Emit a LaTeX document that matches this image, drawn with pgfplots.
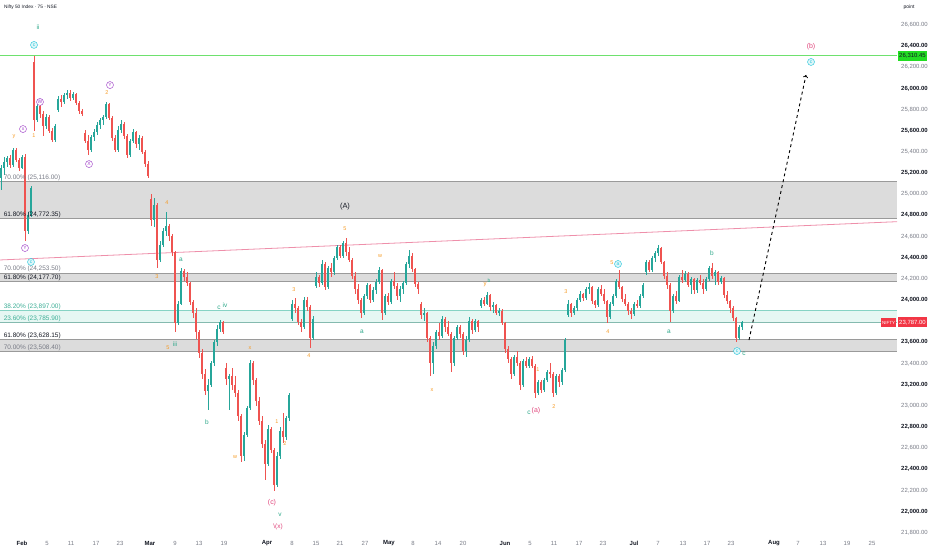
\documentclass[border=0pt]{standalone}
\usepackage{pgfplots}
\pgfplotsset{compat=1.18}
\usepackage{pgfplotstable}
\usepackage{fontspec}
\setmainfont{Liberation Sans}
\definecolor{upc}{HTML}{26A69A}
\definecolor{dnc}{HTML}{EF5350}
\definecolor{tvgrey}{HTML}{787B86}
\definecolor{tvdark}{HTML}{131722}
\definecolor{bandfill}{HTML}{DCDCDC}
\definecolor{bandline}{HTML}{9A9A9A}
\definecolor{tealfill}{HTML}{E6F7F3}
\definecolor{tealline}{HTML}{86D3C4}
\definecolor{fibteal}{HTML}{3DAE96}
\definecolor{levelgreen}{RGB}{110,225,110}
\definecolor{trend}{HTML}{EE8FAA}
\definecolor{wor}{HTML}{F59A23}
\definecolor{wpu}{HTML}{A040C8}
\definecolor{wcy}{HTML}{26C6DA}
\definecolor{wgr}{HTML}{2EA88A}
\definecolor{wpk}{HTML}{E0457B}
\definecolor{lblgreen}{HTML}{22DD22}
\definecolor{lblred}{HTML}{F23645}
\newcommand{\lb}[5]{\node[text=#1, font=\fontsize{#5}{#5}\selectfont, inner sep=0pt] at (axis cs:#2,#3) {#4};}
\newcommand{\cl}[5]{\node[circle, draw=#1, text=#1, fill=#5, line width=0.45bp, inner sep=0pt, minimum size=7bp, font=\fontsize{5}{5}\selectfont] at (axis cs:#2,#3) {#4};}
\newcommand{\fibl}[3]{\node[anchor=south west, inner sep=0.6bp, text=#1, font=\fontsize{6.5}{7}\selectfont] at (axis cs:3,#2) {#3};}
\newcommand{\M}[1]{\textcolor{tvdark}{\textbf{#1}}}
\newcommand{\B}[1]{\textcolor{tvdark}{\textbf{#1}}}
\pgfplotsset{candle/.style 2 args={draw=none, mark=none, forget plot, error bars/.cd, y dir=both, y explicit, error mark=none, error bar style={draw=#1, line width=#2}}}
\begin{document}
\pgfplotstableread{
x o h l c
1 25150 25280 25040 25250
4 25250 25350 25180 25300
7 25300 25360 25260 25340
10 25340 25370 25250 25280
13 25280 25440 25260 25420
16 25420 25440 25300 25320
19 25320 25340 25220 25250
22 25250 25370 25240 25350
25 25350 25380 24560 24650
28 24650 24830 24620 24800
31 24800 25080 24780 25060
34 26250 26310 25600 25700
37 25700 25850 25680 25830
40 25830 25860 25720 25760
43 25760 25790 25550 25640
46 25640 25760 25620 25730
49 25730 25750 25580 25600
52 25600 25630 25490 25510
55 25510 25660 25490 25640
58 25800 25930 25780 25900
61 25900 25940 25820 25870
64 25870 25960 25850 25940
67 25940 25985 25900 25960
70 25960 25985 25880 25910
73 25910 25970 25890 25950
76 25950 25960 25840 25860
79 25860 25880 25760 25790
82 25790 25810 25740 25760
85 25580 25610 25480 25500
88 25500 25560 25370 25420
91 25420 25560 25400 25540
94 25540 25620 25500 25590
97 25590 25680 25560 25650
100 25650 25720 25620 25700
103 25700 25750 25650 25730
106 25730 25870 25710 25850
109 25850 25860 25700 25720
112 25720 25740 25500 25530
115 25530 25560 25400 25420
118 25420 25640 25400 25610
121 25610 25700 25580 25660
124 25660 25680 25520 25550
127 25550 25570 25340 25370
130 25370 25520 25350 25500
133 25500 25620 25480 25590
136 25590 25600 25440 25470
139 25470 25560 25420 25530
142 25530 25550 25380 25400
145 25400 25420 25260 25290
148 25290 25310 25150 25170
151 24950 25000 24700 24760
154 24760 24960 24690 24900
157 24900 24920 24300 24380
160 24380 24560 24360 24520
163 24520 24680 24500 24650
166 24650 24830 24600 24700
169 24700 24720 24560 24600
172 24600 24620 24420 24450
175 24450 24460 23700 23780
178 23780 23990 23760 23960
181 23960 24300 23950 24270
184 24270 24290 24180 24220
187 24220 24260 24130 24160
190 24160 24170 23950 23980
193 23980 24000 23830 23880
196 23880 23920 23630 23700
199 23700 23720 23450 23500
202 23500 23540 23250 23300
205 23300 23350 23100 23140
208 23140 23250 22960 23200
211 23200 23420 23180 23400
214 23400 23620 23380 23600
217 23600 23760 23560 23730
220 23730 23810 23700 23790
223 23790 23800 23680 23700
226 23360 23400 23200 23250
229 23250 23300 22960 23280
232 23280 23360 23150 23200
235 23200 23280 23080 23120
238 23120 23150 22860 22900
241 22900 22920 22470 22520
244 22520 22750 22480 22720
247 22720 23000 22700 22980
250 22980 23430 22960 23400
253 23400 23420 23200 23240
256 23240 23260 23000 23040
259 23040 23080 22820 22860
262 22860 22900 22600 22640
265 22640 22680 22300 22450
268 22450 22820 22430 22780
271 22780 22800 22550 22580
274 22580 22600 22190 22250
277 22250 22560 22230 22520
280 22520 22800 22500 22760
283 22760 22930 22650 22700
286 22700 22900 22680 22880
289 22880 23120 22860 23100
292 23820 24000 23800 23960
295 23960 24020 23880 23920
298 23920 23940 23760 23790
301 23790 23820 23700 23740
304 23740 24030 23730 24000
307 24000 24030 23900 23930
310 23930 23950 23550 23640
313 23640 23850 23620 23820
316 24130 24260 24110 24220
319 24220 24240 24120 24160
322 24160 24380 24140 24340
325 24340 24360 24090 24120
328 24120 24320 24100 24300
331 24300 24350 24220 24260
334 24260 24420 24240 24400
337 24400 24520 24380 24500
340 24500 24520 24400 24420
343 24420 24560 24400 24540
346 24540 24585 24420 24450
349 24450 24500 24360 24380
352 24380 24400 24200 24230
355 24230 24260 24060 24100
358 24100 24150 23960 24000
361 24000 24020 23830 23880
364 23880 24060 23860 24040
367 24040 24160 24010 24140
370 24140 24150 23970 24000
373 24000 24120 23980 24090
376 24090 24200 24060 24170
379 24170 24310 24150 24280
382 24280 24290 23810 23880
385 23880 24060 23860 24040
388 24040 24070 23950 23980
391 23980 24200 23960 24180
394 24180 24260 24100 24130
397 24130 24160 24000 24040
400 24040 24130 23980 24100
403 24100 24180 24060 24160
406 24160 24360 24140 24340
409 24340 24470 24300 24420
412 24420 24440 24260 24290
415 24290 24300 24120 24150
418 24150 24170 24060 24100
421 23960 23980 23820 23860
424 23860 23920 23800 23880
427 23880 23890 23600 23640
430 23640 23660 23280 23400
433 23400 23600 23300 23560
436 23560 23720 23540 23700
439 23700 23780 23620 23660
442 23660 23850 23640 23820
445 23820 23840 23700 23740
448 23740 23800 23660 23680
451 23680 23700 23320 23400
454 23400 23660 23380 23640
457 23640 23760 23620 23740
460 23740 23760 23640 23680
463 23680 23700 23480 23520
466 23520 23660 23460 23620
469 23620 23840 23600 23800
472 23800 23820 23680 23720
475 23720 23820 23700 23800
478 23800 23810 23700 23740
481 23940 24020 23920 24000
484 24000 24030 23940 23960
487 23960 24075 23950 24050
490 24050 24060 23900 23930
493 23930 23980 23880 23950
496 23950 23960 23860 23880
499 23880 23920 23850 23900
502 23900 23910 23760 23780
505 23780 23790 23500 23540
508 23540 23560 23400 23440
511 23440 23460 23250 23300
514 23300 23480 23280 23460
517 23460 23520 23380 23400
520 23400 23420 23150 23200
523 23200 23440 23180 23420
526 23420 23460 23360 23380
529 23380 23460 23360 23440
532 23440 23470 23360 23380
535 23380 23390 23075 23120
538 23120 23240 23100 23220
541 23220 23240 23120 23150
544 23150 23260 23130 23240
547 23240 23340 23220 23320
550 23320 23400 23260 23300
553 23300 23320 23084 23120
556 23120 23300 23100 23280
559 23280 23300 23180 23220
562 23220 23360 23200 23340
565 23340 23640 23320 23620
568 23860 24000 23840 23960
571 23960 23970 23840 23880
574 23880 23940 23860 23920
577 23920 24020 23900 24000
580 24000 24080 23980 24060
583 24060 24070 23990 24020
586 24020 24120 24000 24100
589 24100 24160 24060 24120
592 24120 24130 23960 23990
595 23990 24000 23920 23950
598 23950 24120 23930 24100
601 24100 24140 24040 24060
604 24060 24100 23960 23990
607 23990 24000 23780 23840
610 23840 23980 23820 23960
613 23960 24060 23940 24040
616 24040 24200 24020 24180
619 24180 24280 24100 24120
622 24120 24130 23980 24010
625 24010 24060 23940 23960
628 23960 23980 23860 23900
631 23900 23920 23820 23870
634 23870 23980 23850 23960
637 23960 24000 23920 23940
640 23940 24060 23920 24040
643 24040 24160 24020 24140
646 24260 24380 24240 24360
649 24360 24380 24260 24280
652 24280 24420 24260 24400
655 24400 24460 24360 24440
658 24440 24518 24420 24490
661 24490 24500 24340 24360
664 24360 24370 24200 24230
667 24230 24260 24100 24140
670 24140 24160 23790 23900
673 23900 24060 23880 24040
676 24040 24080 23960 23990
679 23990 24240 23980 24220
682 24220 24280 24160 24190
685 24190 24270 24170 24250
688 24250 24260 24120 24140
691 24140 24220 24060 24200
694 24200 24210 24060 24090
697 24090 24210 24070 24190
700 24190 24240 24140 24160
703 24160 24200 24060 24100
706 24100 24220 24080 24200
709 24200 24320 24180 24300
712 24300 24348 24200 24230
715 24230 24280 24140 24260
718 24260 24270 24140 24170
721 24170 24230 24150 24210
724 24210 24220 24020 24050
727 24050 24080 23960 23990
730 23990 24000 23880 23920
733 23920 23940 23800 23830
736 23830 23840 23600 23640
739 23640 23760 23620 23740
742 23740 23800 23720 23787
}\cdata
\begin{tikzpicture}
\useasboundingbox (0,0) rectangle (932bp,550bp);
\begin{axis}[
  at={(0bp,13bp)}, anchor=south west, scale only axis,
  width=897bp, height=537bp,
  xmin=0, xmax=897, ymin=21758.7, ymax=26836,
  clip=false,
  axis line style={draw=none},
  major tick length=0pt,
  scaled x ticks=false, scaled y ticks=false,
  xtick={22,47,71,96,120,150,175,199,224,267,292,316,340,365,389,413,438,463,505,530,554,579,603,634,658,683,707,731,774,798,823,847,872},
  xticklabels={\M{Feb},5,11,17,23,\M{Mar},9,13,19,\M{Apr},8,15,21,27,\M{May},8,14,20,\M{Jun},5,11,17,23,\M{Jul},7,13,17,23,\M{Aug},7,13,19,25},
  xticklabel style={anchor=center, yshift=-6.5bp, inner sep=0pt, text=tvgrey, font=\fontsize{6}{6}\selectfont},
  ytick={21800,22000,22200,22400,22600,22800,23000,23200,23400,23600,24000,24200,24400,24600,24800,25000,25200,25400,25600,25800,26000,26200,26400,26600},
  yticklabels={{21,800.00},{\B{22,000.00}},{22,200.00},{\B{22,400.00}},{22,600.00},{\B{22,800.00}},{23,000.00},{\B{23,200.00}},{23,400.00},{\B{23,600.00}},{\B{24,000.00}},{24,200.00},{\B{24,400.00}},{24,600.00},{\B{24,800.00}},{25,000.00},{\B{25,200.00}},{25,400.00},{\B{25,600.00}},{25,800.00},{\B{26,000.00}},{26,200.00},{\B{26,400.00}},{26,600.00}},
  yticklabel pos=right,
  yticklabel style={anchor=west, xshift=4bp, inner sep=0pt, text=tvgrey, font=\fontsize{6}{6}\selectfont},
]
% bands
\addplot[draw=none, fill=bandfill, forget plot] coordinates {(0,24772.35) (897,24772.35) (897,25116) (0,25116)};
\addplot[draw=none, fill=bandfill, forget plot] coordinates {(0,24177.7) (897,24177.7) (897,24253.5) (0,24253.5)};
\addplot[draw=none, fill=tealfill, forget plot] coordinates {(0,23785.9) (897,23785.9) (897,23897) (0,23897)};
\addplot[draw=none, fill=bandfill, forget plot] coordinates {(0,23508.4) (897,23508.4) (897,23628.15) (0,23628.15)};
\addplot[draw=bandline, line width=1bp, forget plot] coordinates {(0,25116) (897,25116)};
\addplot[draw=bandline, line width=1bp, forget plot] coordinates {(0,24772.35) (897,24772.35)};
\addplot[draw=bandline, line width=1bp, forget plot] coordinates {(0,24253.5) (897,24253.5)};
\addplot[draw=bandline, line width=1bp, forget plot] coordinates {(0,24177.7) (897,24177.7)};
\addplot[draw=tealline, line width=0.9bp, forget plot] coordinates {(0,23897) (897,23897)};
\addplot[draw=tealline!70!gray, line width=0.9bp, forget plot] coordinates {(0,23785.9) (897,23785.9)};
\addplot[draw=bandline, line width=1bp, forget plot] coordinates {(0,23628.15) (897,23628.15)};
\addplot[draw=bandline, line width=1bp, forget plot] coordinates {(0,23508.4) (897,23508.4)};
% level and trend lines
\addplot[draw=levelgreen, line width=1.1bp, forget plot] table[row sep=\\] {x y\\ 0 26310.45\\ 897 26310.45\\};
\addplot[draw=trend, line width=0.8bp, forget plot] coordinates {(0,24378) (897,24740)};
% candles: wicks
\addplot[candle={upc}{0.5bp}]
  table[x=x, y expr={(\thisrow{c}>=\thisrow{o}) ? 0.5*(\thisrow{h}+\thisrow{l}) : nan}, y error expr={0.5*(\thisrow{h}-\thisrow{l})}] {\cdata};
\addplot[candle={dnc}{0.5bp}]
  table[x=x, y expr={(\thisrow{c}<\thisrow{o}) ? 0.5*(\thisrow{h}+\thisrow{l}) : nan}, y error expr={0.5*(\thisrow{h}-\thisrow{l})}] {\cdata};
% candles: bodies
\addplot[candle={upc}{1.7bp}]
  table[x=x, y expr={(\thisrow{c}>=\thisrow{o}) ? 0.5*(\thisrow{o}+\thisrow{c}) : nan}, y error expr={max(0.5*abs(\thisrow{c}-\thisrow{o}),5)}] {\cdata};
\addplot[candle={dnc}{1.7bp}]
  table[x=x, y expr={(\thisrow{c}<\thisrow{o}) ? 0.5*(\thisrow{o}+\thisrow{c}) : nan}, y error expr={max(0.5*abs(\thisrow{c}-\thisrow{o}),5)}] {\cdata};
% projection
\addplot[black, dashed, line width=0.9bp, ->, forget plot] coordinates {(749,23621) (806,26127)};
% fib labels
\fibl{tvgrey}{25116}{70.00\% (25,116.00)}
\fibl{tvdark}{24772.35}{61.80\% (24,772.35)}
\fibl{tvgrey}{24253.5}{70.00\% (24,253.50)}
\fibl{tvdark}{24177.7}{61.80\% (24,177.70)}
\fibl{fibteal}{23897}{38.20\% (23,897.00)}
\fibl{fibteal}{23785.9}{23.60\% (23,785.90)}
\fibl{tvdark}{23628.15}{61.80\% (23,628.15)}
\fibl{tvgrey}{23508.4}{70.00\% (23,508.40)}
% wave labels
\lb{wgr}{38}{26581}{ii}{6.5}
\cl{wcy}{34}{26411}{c}{wcy!15}
\lb{wor}{14}{25541}{y}{5.5}
\cl{wpu}{23}{25616}{x}{white}
\cl{wpu}{40}{25872}{W}{white}
\lb{wor}{34}{25550}{1}{5.5}
\cl{wpu}{89}{25285}{X}{white}
\lb{wor}{107}{25957}{2}{5.5}
\cl{wpu}{110}{26032}{Y}{white}
\cl{wpu}{25}{24491}{Y}{white}
\cl{wcy}{31}{24359}{c}{wcy!15}
\lb{wor}{167}{24917}{4}{5.5}
\lb{wgr}{181}{24378}{a}{6.5}
\lb{wor}{157}{24217}{3}{5.5}
\lb{wor}{168}{23546}{5}{5.5}
\lb{wgr}{175}{23584}{iii}{6.5}
\lb{wgr}{219}{23924}{c}{6.5}
\lb{wgr}{225}{23952}{iv}{6.5}
\lb{wgr}{207}{22846}{b}{6.5}
\lb{wor}{250}{23546}{x}{5.5}
\lb{wor}{235}{22515}{w}{5.5}
\lb{wpk}{272}{22080}{(c)}{7}
\lb{wgr}{280}{21967}{v}{6.5}
\lb{wpk}{278}{21853}{\textbackslash(x)}{6.5}
\lb{wor}{277}{22846}{1}{5.5}
\lb{wor}{285}{22638}{2}{5.5}
\lb{wor}{294}{24094}{3}{5.5}
\lb{wor}{309}{23470}{4}{5.5}
\lb{wor}{345}{24671}{5}{5.5}
\lb{wgr}{362}{23697}{a}{6.5}
\lb{wor}{380}{24416}{w}{5.5}
\lb{wor}{432}{23149}{x}{5.5}
\lb{wor}{485}{24141}{y}{6}
\lb{wgr}{489}{24185}{b}{5}
\lb{wor}{538}{23338}{1}{5.5}
\lb{wgr}{529}{22931}{c}{6.5}
\lb{wpk}{536}{22950}{(a)}{7}
\lb{wor}{554}{22988}{2}{5.5}
\lb{wor}{566}{24075}{3}{5.5}
\lb{wor}{608}{23697}{4}{5.5}
\lb{wor}{612}{24349}{5}{5.5}
\cl{wcy}{618}{24340}{a}{wcy!15}
\lb{wgr}{669}{23697}{a}{6.5}
\lb{wgr}{712}{24444}{b}{6.5}
\cl{wcy}{737}{23517}{c}{wcy!15}
\lb{wgr}{744}{23489}{c}{6.5}
\lb{wpk}{811}{26392}{(b)}{7}
\cl{wcy}{811}{26250}{c}{wcy!15}
\lb{tvdark}{345}{24879}{(A)}{7.5}
% title and scale header
\node[anchor=west, inner sep=0pt, text=tvdark, font=\fontsize{4.8}{5}\selectfont] at (axis cs:4,26765) {Nifty 50 Index · 75 · NSE};
\node[inner sep=0pt, text=tvdark, font=\fontsize{5}{5}\selectfont] at (axis cs:909,26770) {point};
% price tags
\node[anchor=west, fill=lblgreen, text=tvdark, inner xsep=1.5bp, inner ysep=0pt, minimum height=10bp, font=\fontsize{6}{6}\selectfont] at (axis cs:897.5,26310.45) {26,310.45};
\node[anchor=west, fill=lblred, text=white, inner xsep=1.5bp, inner ysep=0pt, minimum height=10bp, font=\fontsize{6}{6}\selectfont] at (axis cs:897.5,23787) {23,787.00};
\node[anchor=east, fill=lblred, text=white, inner xsep=1.2bp, inner ysep=0pt, minimum height=9bp, font=\fontsize{4.5}{5}\selectfont] at (axis cs:896.5,23787) {NIFTY};
\end{axis}
\end{tikzpicture}
\end{document}
